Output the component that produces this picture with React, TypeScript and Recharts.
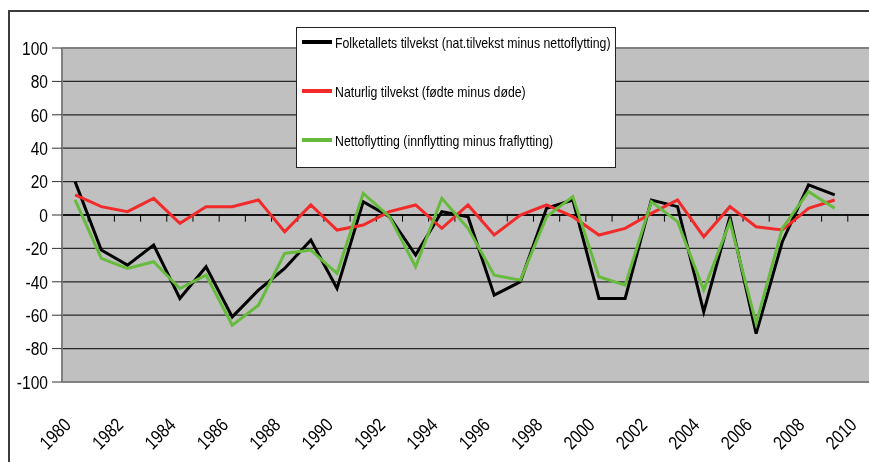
import { LineChart, Line, XAxis, YAxis, CartesianGrid, ReferenceLine, Legend } from "recharts";

const years = [
  1980, 1981, 1982, 1983, 1984, 1985, 1986, 1987, 1988, 1989,
  1990, 1991, 1992, 1993, 1994, 1995, 1996, 1997, 1998, 1999,
  2000, 2001, 2002, 2003, 2004, 2005, 2006, 2007, 2008, 2009,
];
const folketallet = [20, -21, -30, -18, -50, -31, -61, -45, -32, -15, -44, 8, -1, -24, 2, -1, -48, -40, 4, 9, -50, -50, 9, 5, -58, -1, -71, -16, 18, 12];
const naturlig = [12, 5, 2, 10, -5, 5, 5, 9, -10, 6, -9, -6, 2, 6, -8, 6, -12, 0, 6, -1, -12, -8, 1, 9, -13, 5, -7, -9, 4, 9];
const netto = [9, -26, -32, -28, -44, -36, -66, -54, -23, -21, -35, 13, -1, -31, 10, -8, -36, -39, -1, 11, -37, -42, 8, -4, -45, -4, -65, -8, 14, 4];

const xTicks = [1980, 1982, 1984, 1986, 1988, 1990, 1992, 1994, 1996, 1998, 2000, 2002, 2004, 2006, 2008, 2010];
const yTicks = [-100, -80, -60, -40, -20, 0, 20, 40, 60, 80, 100];
// tick marks on the zero line sit on category boundaries
const boundaries = [...years, 2010].map((y) => y + 0.5);

const seriesNames = {
  folketallet: "Folketallets tilvekst (nat.tilvekst minus nettoflytting)",
  naturlig: "Naturlig tilvekst (fødte minus døde)",
  netto: "Nettoflytting (innflytting minus fraflytting)",
};

const data = years.map((year, i) => ({
  year,
  folketallet: folketallet[i],
  naturlig: naturlig[i],
  netto: netto[i],
}));

// no narrow font installed, so squeeze Liberation Sans horizontally
const FONT = "'Liberation Sans', Arial, sans-serif";
const SQUEEZE = 0.82;

function YearTick({ x, y, payload }: any) {
  return (
    <g transform={`translate(${x - 3}, ${y + 44}) rotate(-45) scale(${SQUEEZE}, 1)`}>
      <text x={0} y={0} textAnchor="end" fontSize={19} fontFamily={FONT} fill="#000">
        {payload.value}
      </text>
    </g>
  );
}

function ValueTick({ x, y, payload }: any) {
  return (
    <g transform={`translate(${x}, ${y}) scale(${SQUEEZE}, 1)`}>
      <text x={0} y={0} dy="0.36em" textAnchor="end" fontSize={19} fontFamily={FONT} fill="#000">
        {payload.value}
      </text>
    </g>
  );
}

function LegendBox({ payload }: any) {
  return (
    <div
      style={{
        position: "relative",
        width: 320,
        height: 141,
        background: "#fff",
        border: "1.5px solid #222",
        boxSizing: "border-box",
        fontFamily: FONT,
        fontSize: 15,
        color: "#000",
      }}
    >
      {(payload || []).map((p: any, i: number) => (
        <div key={p.value} style={{ position: "absolute", left: 5, top: 4 + i * 49, height: 20, display: "flex", alignItems: "center", whiteSpace: "nowrap" }}>
          <span style={{ display: "inline-block", width: 30, height: 3.5, background: p.color, marginRight: 3 }} />
          <span style={{ display: "inline-block", transform: `scaleX(${SQUEEZE})`, transformOrigin: "left center" }}>{p.value}</span>
        </div>
      ))}
    </div>
  );
}

export default function App() {
  return (
    <div style={{ position: "fixed", left: 8, top: 10, right: 0, bottom: 0, overflow: "hidden" }}>
      <div style={{ position: "absolute", left: 0, top: 0, width: 920, height: 520, borderTop: "2px solid #3c3c3c", borderLeft: "2px solid #3c3c3c" }} />
      <div style={{ position: "absolute", left: 0, top: 0 }}>
        <LineChart width={872} height={452} data={data} margin={{ top: 38, right: 6, bottom: 0, left: 0 }}>
          <CartesianGrid vertical={false} fill="#c0c0c0" stroke="#262626" strokeWidth={1.3} />
          <XAxis
            dataKey="year"
            type="number"
            domain={[1979.5, 2010.5]}
            ticks={xTicks}
            interval={0}
            height={80}
            tickSize={0}
            tickMargin={0}
            tickLine={false}
            axisLine={{ stroke: "#808080", strokeWidth: 2 }}
            tick={<YearTick />}
          />
          <YAxis
            domain={[-100, 100]}
            ticks={yTicks}
            width={54}
            tickSize={10}
            tickMargin={4}
            interval={0}
            axisLine={{ stroke: "#808080", strokeWidth: 2 }}
            tickLine={{ stroke: "#333" }}
            tick={<ValueTick />}
          />
          <ReferenceLine y={100} stroke="#808080" strokeWidth={2} />
          <ReferenceLine y={0} stroke="#000" strokeWidth={1.5} />
          {boundaries.map((b) => (
            <ReferenceLine
              key={b}
              segment={[{ x: b, y: 0 }, { x: b, y: -4 }]}
              stroke="#000"
              strokeWidth={1}
            />
          ))}
          <Line type="linear" dataKey="folketallet" name={seriesNames.folketallet} stroke="#000000" strokeWidth={3} dot={false} isAnimationActive={false} />
          <Line type="linear" dataKey="naturlig" name={seriesNames.naturlig} stroke="#f22a2a" strokeWidth={3} dot={false} isAnimationActive={false} />
          <Line type="linear" dataKey="netto" name={seriesNames.netto} stroke="#66bb3c" strokeWidth={3} dot={false} isAnimationActive={false} />
          <Legend
            layout="vertical"
            align="center"
            verticalAlign="middle"
            content={<LegendBox />}
            wrapperStyle={{ position: "absolute", left: 288, top: 17, width: 320, height: 141 }}
          />
        </LineChart>
      </div>
    </div>
  );
}
